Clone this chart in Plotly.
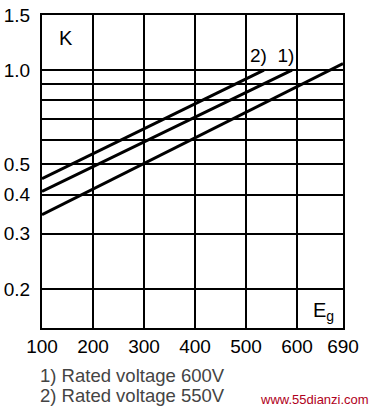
import math
import plotly.graph_objects as go

# Data
x_ticks = [100, 200, 300, 400, 500, 600, 690]
y_grid = [0.2, 0.3, 0.4, 0.5, 0.6, 0.7, 0.8, 0.9, 1.0, 1.5]
y_labels = ["0.2", "0.3", "0.4", "0.5", "", "", "", "", "1.0", "1.5"]

line2_x = [100, 535]
line2_y = [0.45, 1.0]
line1_x = [100, 590]
line1_y = [0.41, 1.0]
line3_x = [100, 690]
line3_y = [0.345, 1.05]

font = "Liberation Sans, Arial, sans-serif"

L, R, T, B = 42, 32, 15, 84
PW, PH = 375 - L - R, 412 - T - B


def px(x):
    return (x - L) / PW


def py(y):
    return (412 - B - y) / PH


fig = go.Figure()
for xs, ys in [(line2_x, line2_y), (line1_x, line1_y), (line3_x, line3_y)]:
    fig.add_trace(go.Scatter(x=xs, y=ys, mode="lines",
                             line=dict(color="black", width=3),
                             showlegend=False, hoverinfo="skip"))

fig.update_layout(
    width=375, height=412,
    margin=dict(l=L, r=R, t=T, b=B, autoexpand=False),
    paper_bgcolor="white", plot_bgcolor="white",
    font=dict(family=font, color="black", size=19),
    xaxis=dict(range=[100, 690], tickvals=x_ticks,
               ticktext=[str(v) for v in x_ticks],
               showgrid=True, gridcolor="black", gridwidth=2,
               showline=True, linecolor="black", linewidth=2, mirror=True,
               zeroline=False, ticks="", ticklen=0,
               tickfont=dict(size=19, family=font, color="black")),
    yaxis=dict(type="log", range=[math.log10(0.15), math.log10(1.5)],
               tickvals=y_grid, ticktext=y_labels,
               showgrid=True, gridcolor="black", gridwidth=2,
               showline=True, linecolor="black", linewidth=2, mirror=True,
               zeroline=False, ticks="", ticklen=0, ticklabelstandoff=6,
               tickfont=dict(size=19, family=font, color="black")),
)

fig.add_annotation(x=px(66), y=py(38), xref="paper", yref="paper", text="K",
                   showarrow=False, xanchor="center", yanchor="middle",
                   font=dict(size=20, family=font, color="black"))
fig.add_annotation(x=px(323), y=py(311), xref="paper", yref="paper",
                   text="E<sub>g</sub>", showarrow=False,
                   xanchor="center", yanchor="middle",
                   font=dict(size=20, family=font, color="black"))
fig.add_annotation(x=px(272), y=py(55), xref="paper", yref="paper", text="2)  1)",
                   showarrow=False, xanchor="center", yanchor="middle",
                   font=dict(size=19, family=font, color="black"))
fig.add_annotation(x=px(38), y=py(375), xref="paper", yref="paper",
                   text="1) Rated voltage 600V",
                   showarrow=False, xanchor="left", yanchor="middle",
                   font=dict(size=18.5, family=font, color="#444444"))
fig.add_annotation(x=px(38), y=py(395), xref="paper", yref="paper",
                   text="2) Rated voltage 550V",
                   showarrow=False, xanchor="left", yanchor="middle",
                   font=dict(size=18.5, family=font, color="#444444"))
fig.add_annotation(x=px(314), y=py(400), xref="paper", yref="paper",
                   text="www.55dianzi.com",
                   showarrow=False, xanchor="center", yanchor="middle",
                   font=dict(size=13, family=font, color="#b00020"))

fig.write_html("out.html")
